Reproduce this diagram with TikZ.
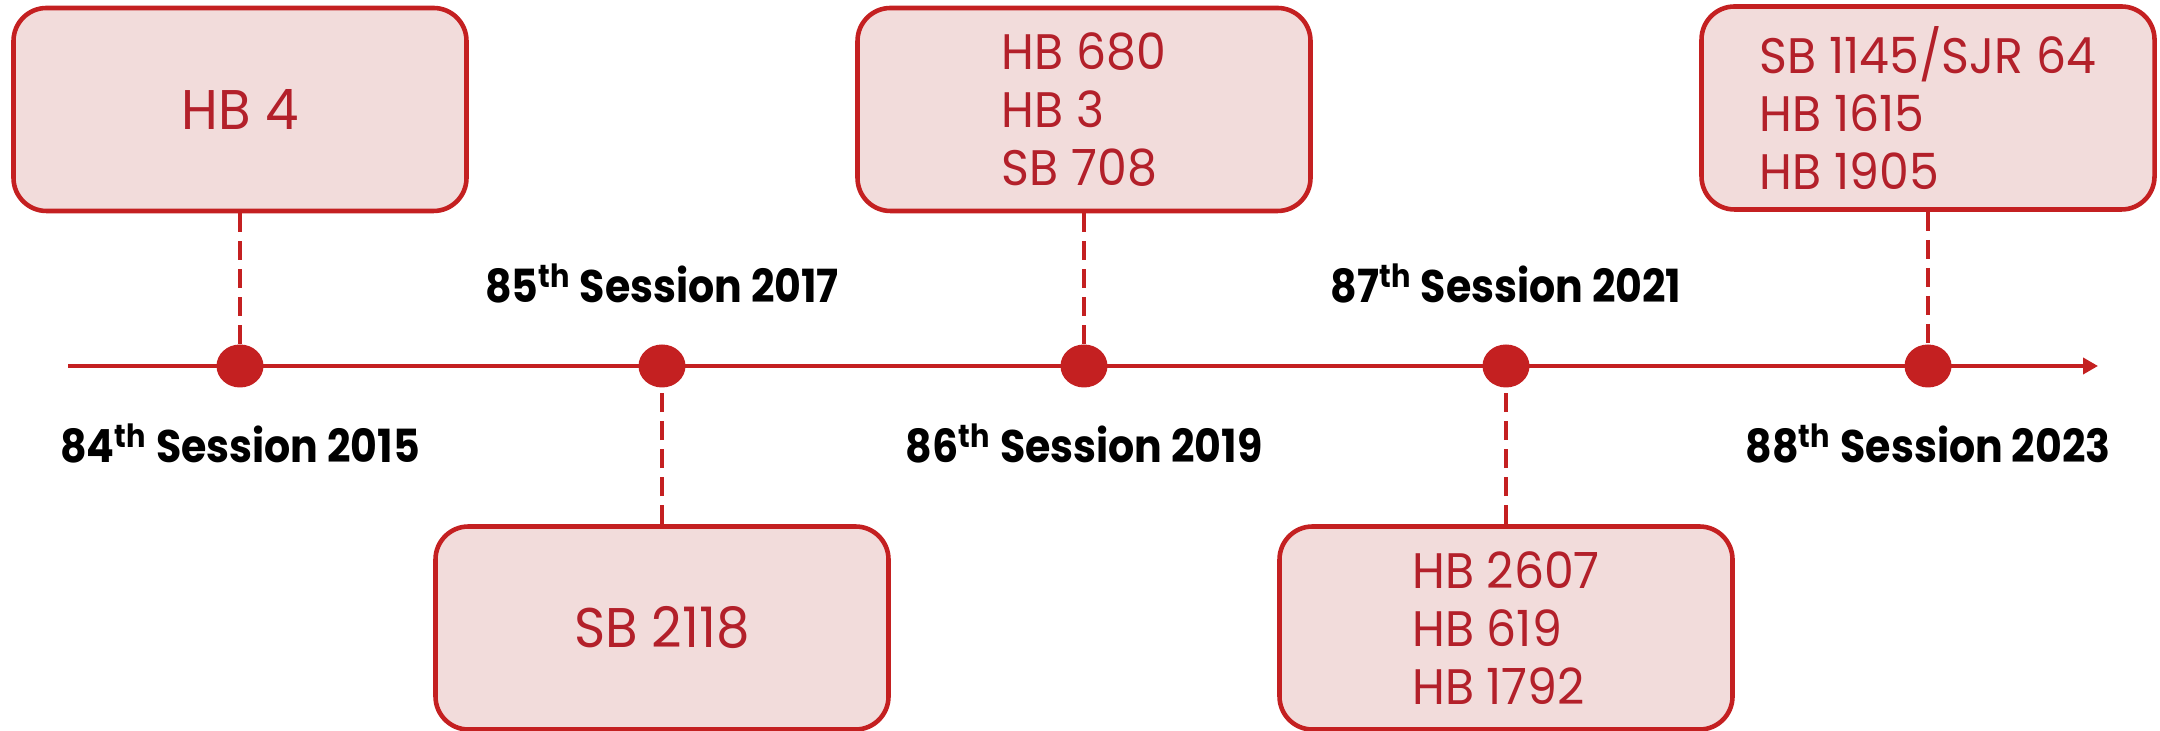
\documentclass[tikz,border=0pt]{standalone}
\usepackage{fontspec}
\setmainfont{Poppins}
\newfontfamily\sessfont{Poppins}[FakeStretch=0.9]
\newfontfamily\billfont{Poppins}[FakeStretch=0.95]
\usetikzlibrary{positioning,shapes.geometric,arrows.meta}
\definecolor{lineRed}{HTML}{C42021}
\definecolor{boxPink}{HTML}{F2DCDB}
\definecolor{billRed}{HTML}{B3202A}

\begin{document}
\begin{tikzpicture}[>={Triangle[length=1.5mm,width=1.6mm]},node distance=4.22cm,on grid,
    sessdot/.style={ellipse,fill=lineRed,minimum width=0.47cm,minimum height=0.43cm,inner sep=0pt},
    billbox/.style={rectangle,rounded corners=0.33cm,draw=lineRed,line width=1.3pt,fill=boxPink,
      minimum width=4.53cm,minimum height=2.03cm,text=billRed,align=left,
      font=\billfont\fontsize{14.2}{16.4}\selectfont},
    sesslabel/.style={font=\sessfont\bfseries\fontsize{13}{15}\selectfont},
    link/.style={lineRed,line width=1.15pt,dash pattern=on 0.19cm off 0.09cm}]
  \useasboundingbox (0,0) rectangle (21.6,7.31);

  % timeline
  \coordinate (t_start) at (0.68,3.65);
  \coordinate (t_end) at (20.98,3.65);
  \draw[->,lineRed,line width=1.15pt] (t_start) -- (t_end);

  \node[sessdot] (s_84) at (2.40,3.65) {};
  \node[sessdot] (s_85) [right=of s_84] {};
  \node[sessdot] (s_86) [right=of s_85] {};
  \node[sessdot] (s_87) [right=of s_86] {};
  \node[sessdot] (s_88) [right=of s_87] {};

  % bills
  \node[billbox] (b_84) [above=2.565cm of s_84] {\fontsize{15.9}{18}\selectfont HB 4};
  \node[billbox] (b_85) [below=2.62cm of s_85]  {\fontsize{15.9}{18}\selectfont SB 2118};
  \node[billbox] (b_86) [above=2.565cm of s_86] {HB 680\\HB 3\\SB 708};
  \node[billbox] (b_87) [below=2.62cm of s_87]  {HB 2607\\HB 619\\HB 1792};
  \node[billbox] (b_88) [above=2.58cm of s_88]  {SB 1145/SJR 64\\HB 1615\\HB 1905};

  \draw[link] (b_84) -- (s_84);
  \draw[link] (b_85) -- (s_85);
  \draw[link] (b_86) -- (s_86);
  \draw[link] (b_87) -- (s_87);
  \draw[link] (b_88) -- (s_88);

  % sessions
  \node[sesslabel] (l_84) [below=0.97cm of s_84,anchor=base] {84\textsuperscript{th} Session 2015};
  \node[sesslabel] (l_85) [above=0.63cm of s_85,anchor=base] {85\textsuperscript{th} Session 2017};
  \node[sesslabel] (l_86) [below=0.97cm of s_86,anchor=base] {86\textsuperscript{th} Session 2019};
  \node[sesslabel] (l_87) [above=0.63cm of s_87,anchor=base] {87\textsuperscript{th} Session 2021};
  \node[sesslabel] (l_88) [below=0.97cm of s_88,anchor=base] {88\textsuperscript{th} Session 2023};
\end{tikzpicture}
\end{document}
